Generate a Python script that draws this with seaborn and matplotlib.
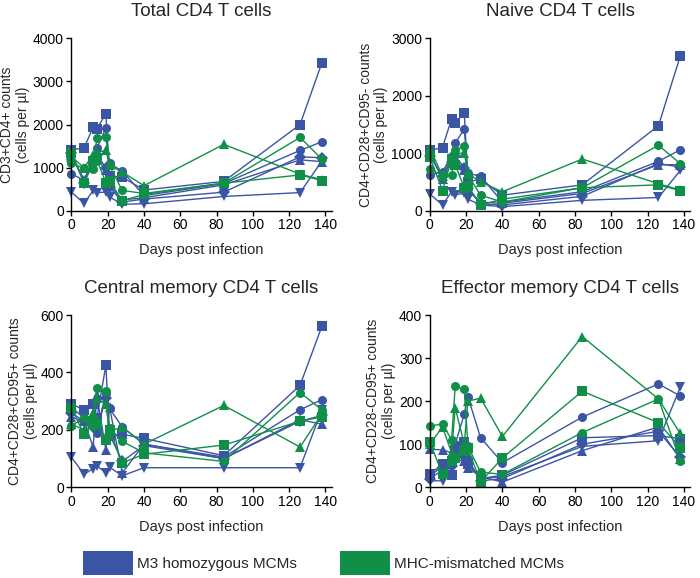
import pandas as pd
import seaborn as sns
import matplotlib.pyplot as plt
from matplotlib.patches import Patch

# Sampling days (days post infection)
days = [0, 7, 12, 14, 19, 21, 28, 40, 84, 126, 138]

animals = ['M3-a', 'M3-b', 'M3-c', 'M3-d', 'M3-e', 'MM-a', 'MM-b', 'MM-c']
groups = ['M3 homozygous MCMs'] * 5 + ['MHC-mismatched MCMs'] * 3
animal_markers = ['s', 'o', '^', 'v', 'D', 's', 'o', '^']

# Counts per animal (cells per ul)
total_cd4 = {
    'M3-a': [1410, 1460, 1940, 1900, 2250, 800, 780, 480, 680, 2000, 3430],
    'M3-b': [860, 700, 1230, 1450, 1920, 1100, 920, 350, 630, 1400, 1600],
    'M3-c': [1300, 720, 1150, 1200, 950, 600, 250, 300, 600, 1180, 1140],
    'M3-d': [430, 170, 470, 420, 430, 320, 150, 160, 330, 420, 1150],
    'M3-e': [1350, 650, 1100, 1300, 1000, 550, 200, 270, 430, 1250, 1230],
    'MM-a': [1330, 640, 1150, 1180, 650, 700, 230, 380, 640, 830, 700],
    'MM-b': [1100, 980, 960, 1680, 1700, 1050, 470, 400, 640, 1700, 1200],
    'MM-c': [1250, 1000, 1300, 1350, 1400, 1050, 900, 580, 1540, 850, 720],
}
naive_cd4 = {
    'M3-a': [1050, 1100, 1600, 1530, 1700, 500, 550, 270, 450, 1480, 2690],
    'M3-b': [620, 680, 950, 1180, 1420, 650, 600, 150, 330, 860, 1060],
    'M3-c': [1000, 550, 900, 900, 700, 350, 150, 130, 300, 800, 800],
    'M3-d': [290, 100, 330, 280, 300, 200, 100, 70, 180, 230, 700],
    'M3-e': [950, 600, 850, 950, 750, 400, 120, 100, 250, 820, 760],
    'MM-a': [930, 350, 900, 800, 400, 430, 100, 200, 400, 450, 350],
    'MM-b': [720, 620, 620, 1060, 1120, 620, 270, 150, 400, 1140, 820],
    'MM-c': [1100, 600, 950, 1000, 1000, 650, 500, 330, 900, 470, 360],
}
central_cd4 = {
    'M3-a': [290, 270, 290, 240, 425, 180, 185, 170, 110, 355, 560],
    'M3-b': [280, 240, 230, 190, 330, 275, 210, 150, 105, 270, 305],
    'M3-c': [245, 230, 140, 320, 130, 280, 50, 150, 100, 235, 220],
    'M3-d': [105, 45, 65, 75, 50, 70, 40, 68, 68, 68, 270],
    'M3-e': [260, 230, 210, 200, 310, 185, 90, 145, 100, 230, 250],
    'MM-a': [275, 185, 230, 220, 165, 200, 85, 115, 147, 230, 245],
    'MM-b': [215, 240, 215, 345, 335, 205, 160, 120, 90, 330, 270],
    'MM-c': [220, 200, 260, 310, 290, 195, 210, 150, 285, 140, 255],
}
effector_cd4 = {
    'M3-a': [30, 55, 28, 87, 105, 55, 20, 28, 115, 120, 113],
    'M3-b': [25, 50, 55, 100, 170, 210, 115, 57, 163, 240, 212],
    'M3-c': [88, 87, 80, 105, 60, 45, 25, 12, 85, 140, 65],
    'M3-d': [15, 15, 60, 65, 60, 55, 20, 25, 95, 108, 232],
    'M3-e': [20, 40, 50, 75, 80, 65, 15, 20, 100, 130, 70],
    'MM-a': [105, 30, 60, 68, 85, 90, 12, 68, 223, 150, 92],
    'MM-b': [142, 147, 110, 235, 228, 95, 35, 30, 127, 205, 62],
    'MM-c': [100, 140, 80, 185, 100, 200, 207, 118, 350, 205, 125],
}

panel_data = [total_cd4, naive_cd4, central_cd4, effector_cd4]
panel_titles = ['Total CD4 T cells', 'Naive CD4 T cells',
                'Central memory CD4 T cells', 'Effector memory CD4 T cells']
y_labels = ['CD3+CD4+ counts\n(cells per µl)',
            'CD4+CD28+CD95- counts\n(cells per µl)',
            'CD4+CD28+CD95+ counts\n(cells per µl)',
            'CD4+CD28-CD95+ counts\n(cells per µl)']
y_max = [4000, 3000, 600, 400]
y_step = [1000, 1000, 200, 100]
x_ticks = [0, 20, 40, 60, 80, 100, 120, 140]

blue = '#3b55a5'
green = '#0f8f47'
group_colors = {'M3 homozygous MCMs': blue, 'MHC-mismatched MCMs': green}
palette = {a: group_colors[g] for a, g in zip(animals, groups)}
marker_map = dict(zip(animals, animal_markers))

sns.set_theme(style="ticks")
plt.rcParams['font.family'] = ['Liberation Sans', 'DejaVu Sans']
plt.rcParams['axes.edgecolor'] = 'black'
plt.rcParams['xtick.color'] = 'black'
plt.rcParams['ytick.color'] = 'black'

fig = plt.figure(figsize=(7, 5.78), dpi=100)

# axes boxes in figure fraction [left, bottom, width, height]
boxes = [[0.102, 0.6355, 0.372, 0.298],
         [0.614, 0.6355, 0.372, 0.298],
         [0.102, 0.157, 0.372, 0.298],
         [0.614, 0.157, 0.372, 0.298]]

for i, data in enumerate(panel_data):
    ax = fig.add_axes(boxes[i])
    rows = []
    for a in animals:
        for d, v in zip(days, data[a]):
            rows.append({'day': d, 'count': v, 'animal': a})
    df = pd.DataFrame(rows)

    sns.lineplot(data=df, x='day', y='count', hue='animal', style='animal',
                 hue_order=animals, style_order=animals,
                 palette=palette, markers=marker_map, dashes=False,
                 estimator=None, sort=False, legend=False, ax=ax,
                 lw=1.0, markersize=6.5, markeredgewidth=0, clip_on=False)

    ax.set_xlim(0, 143.5)
    ax.set_ylim(0, y_max[i])
    ax.set_xticks(x_ticks)
    ax.set_yticks(range(0, y_max[i] + 1, y_step[i]))
    ax.tick_params(axis='both', labelsize=10, length=3.5, width=1, pad=2)
    sns.despine(ax=ax)
    for s in ['left', 'bottom']:
        ax.spines[s].set_linewidth(1.0)
    ax.set_title(panel_titles[i], fontsize=13.5, pad=16)
    ax.set_xlabel('Days post infection', fontsize=10.5, labelpad=8)
    ax.set_ylabel(y_labels[i], fontsize=10, labelpad=2, linespacing=1.15)
    ax.grid(False)

handles = [Patch(facecolor=blue, edgecolor='none', label='M3 homozygous MCMs'),
           Patch(facecolor=green, edgecolor='none', label='MHC-mismatched MCMs')]
fig.legend(handles=handles, loc='lower left', bbox_to_anchor=(83 / 700, 0.006),
           ncol=2, frameon=False, fontsize=11, handlelength=3.3,
           handleheight=2.0, handletextpad=0.25, columnspacing=2.8,
           borderpad=0, borderaxespad=0)

plt.savefig('out.png', dpi=100, facecolor='white')
